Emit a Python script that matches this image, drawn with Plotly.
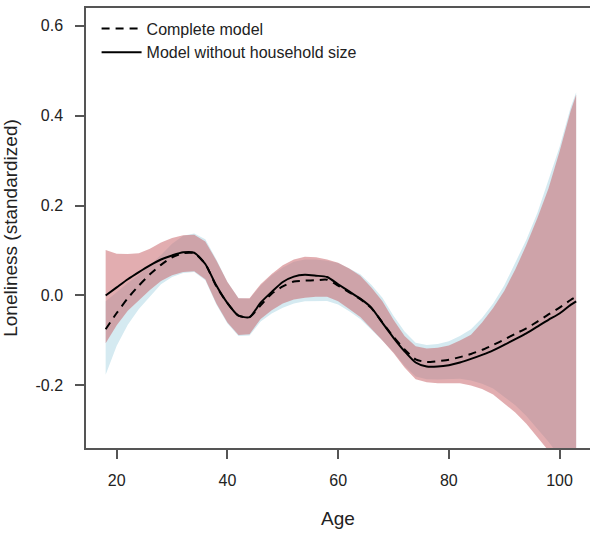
import plotly.graph_objects as go

age = [18, 20, 22, 24, 26, 28, 30, 32, 34, 36, 38, 40, 42, 44, 46, 48, 50, 52, 54, 56,
       58, 60, 62, 64, 66, 68, 70, 72, 74, 76, 78, 80, 82, 84, 86, 88, 90, 92, 94, 96,
       98, 100, 102, 103]

# Model without household size (solid line, red band)
no_hh = [0.000, 0.018, 0.036, 0.052, 0.067, 0.080, 0.089, 0.096, 0.095, 0.070, 0.022,
         -0.017, -0.045, -0.048, -0.016, 0.008, 0.030, 0.042, 0.046, 0.044, 0.041, 0.025,
         0.009, -0.007, -0.027, -0.061, -0.094, -0.124, -0.149, -0.158, -0.158, -0.155,
         -0.149, -0.141, -0.132, -0.122, -0.110, -0.097, -0.084, -0.069, -0.054, -0.040,
         -0.021, -0.013]
no_hh_hi = [0.101, 0.093, 0.092, 0.094, 0.104, 0.118, 0.128, 0.134, 0.135, 0.120, 0.078,
            0.030, -0.006, -0.006, 0.025, 0.048, 0.067, 0.080, 0.086, 0.085, 0.080, 0.073,
            0.060, 0.044, 0.018, -0.013, -0.054, -0.090, -0.113, -0.118, -0.116, -0.111,
            -0.100, -0.087, -0.060, -0.028, 0.010, 0.058, 0.112, 0.172, 0.238, 0.320,
            0.410, 0.446]
no_hh_lo = [-0.106, -0.066, -0.034, -0.012, 0.012, 0.032, 0.045, 0.052, 0.054, 0.036,
            -0.018, -0.060, -0.088, -0.086, -0.052, -0.033, -0.018, -0.009, -0.005, -0.003,
            -0.003, -0.013, -0.030, -0.048, -0.074, -0.100, -0.128, -0.160, -0.186, -0.193,
            -0.195, -0.195, -0.195, -0.200, -0.208, -0.220, -0.240, -0.260, -0.285, -0.316,
            -0.345, -0.380, -0.430, -0.455]

# Complete model (dashed line, blue band)
complete = [-0.075, -0.039, -0.006, 0.022, 0.047, 0.068, 0.085, 0.094, 0.094, 0.070,
            0.020, -0.017, -0.045, -0.048, -0.022, 0.004, 0.020, 0.031, 0.033, 0.034,
            0.035, 0.022, 0.007, -0.008, -0.028, -0.060, -0.092, -0.120, -0.142, -0.148,
            -0.146, -0.143, -0.137, -0.130, -0.121, -0.110, -0.098, -0.085, -0.073, -0.058,
            -0.042, -0.027, -0.010, -0.003]
complete_hi = [-0.013, 0.008, 0.028, 0.046, 0.068, 0.090, 0.115, 0.133, 0.138, 0.125,
               0.080, 0.030, -0.006, -0.007, 0.022, 0.045, 0.062, 0.075, 0.080, 0.080,
               0.077, 0.072, 0.060, 0.047, 0.024, -0.005, -0.045, -0.080, -0.105, -0.110,
               -0.108, -0.102, -0.090, -0.075, -0.050, -0.018, 0.022, 0.072, 0.124, 0.184,
               0.255, 0.330, 0.418, 0.452]
complete_lo = [-0.176, -0.112, -0.065, -0.030, -0.002, 0.025, 0.041, 0.050, 0.052, 0.034,
               -0.020, -0.062, -0.090, -0.089, -0.058, -0.040, -0.027, -0.018, -0.013,
               -0.012, -0.012, -0.020, -0.035, -0.052, -0.076, -0.100, -0.126, -0.156,
               -0.180, -0.186, -0.187, -0.186, -0.185, -0.189, -0.196, -0.207, -0.225,
               -0.244, -0.268, -0.296, -0.325, -0.358, -0.405, -0.430]

x_ticks = [20, 40, 60, 80, 100]
y_ticks = [-0.2, 0.0, 0.2, 0.4, 0.6]
y_tick_text = ["-0.2", "0.0", "0.2", "0.4", "0.6"]

FONT = "Liberation Sans, Arial, sans-serif"

fig = go.Figure()

fig.add_trace(go.Scatter(
    x=age + age[::-1], y=complete_hi + complete_lo[::-1],
    fill="toself", fillcolor="rgb(213,234,241)", line=dict(width=0),
    mode="lines", showlegend=False, hoverinfo="skip"))
fig.add_trace(go.Scatter(
    x=age + age[::-1], y=no_hh_hi + no_hh_lo[::-1],
    fill="toself", fillcolor="rgba(200,100,105,0.53)", line=dict(width=0),
    mode="lines", showlegend=False, hoverinfo="skip"))
fig.add_trace(go.Scatter(
    x=age, y=complete, mode="lines", name="Complete model",
    line=dict(color="black", width=2, dash="8px,6px", shape="spline", smoothing=0.6)))
fig.add_trace(go.Scatter(
    x=age, y=no_hh, mode="lines", name="Model without household size",
    line=dict(color="black", width=2, shape="spline", smoothing=0.6)))

fig.update_layout(
    width=590, height=534,
    margin=dict(l=86, r=0, t=8, b=86),
    paper_bgcolor="white", plot_bgcolor="white",
    font=dict(family=FONT, size=16, color="#222"),
    legend=dict(x=0.021, y=0.992, xanchor="left", yanchor="top",
                bgcolor="rgba(0,0,0,0)", itemwidth=40,
                font=dict(family=FONT, size=16, color="#222")),
    xaxis=dict(range=[14.45, 105.5], tickvals=x_ticks, ticks="outside", ticklen=9,
               tickcolor="#555", tickwidth=1.5, showline=True, linecolor="#555",
               linewidth=1.5, mirror=True, showgrid=False, zeroline=False,
               ticklabelstandoff=8,
               title=dict(text="Age", standoff=24)),
    yaxis=dict(range=[-0.339, 0.639], tickvals=y_ticks, ticktext=y_tick_text,
               ticks="outside", ticklen=9, tickcolor="#555", tickwidth=1.5,
               showline=True, linecolor="#555", linewidth=1.5, mirror=False,
               showgrid=False, zeroline=False, ticklabelstandoff=9,
               title=dict(text="Loneliness (standardized)", standoff=16)),
)

fig.write_html("out.html",
               config={"displayModeBar": False},
               post_script="document.body.style.margin='0px';"
                           "document.body.style.overflow='hidden';")
